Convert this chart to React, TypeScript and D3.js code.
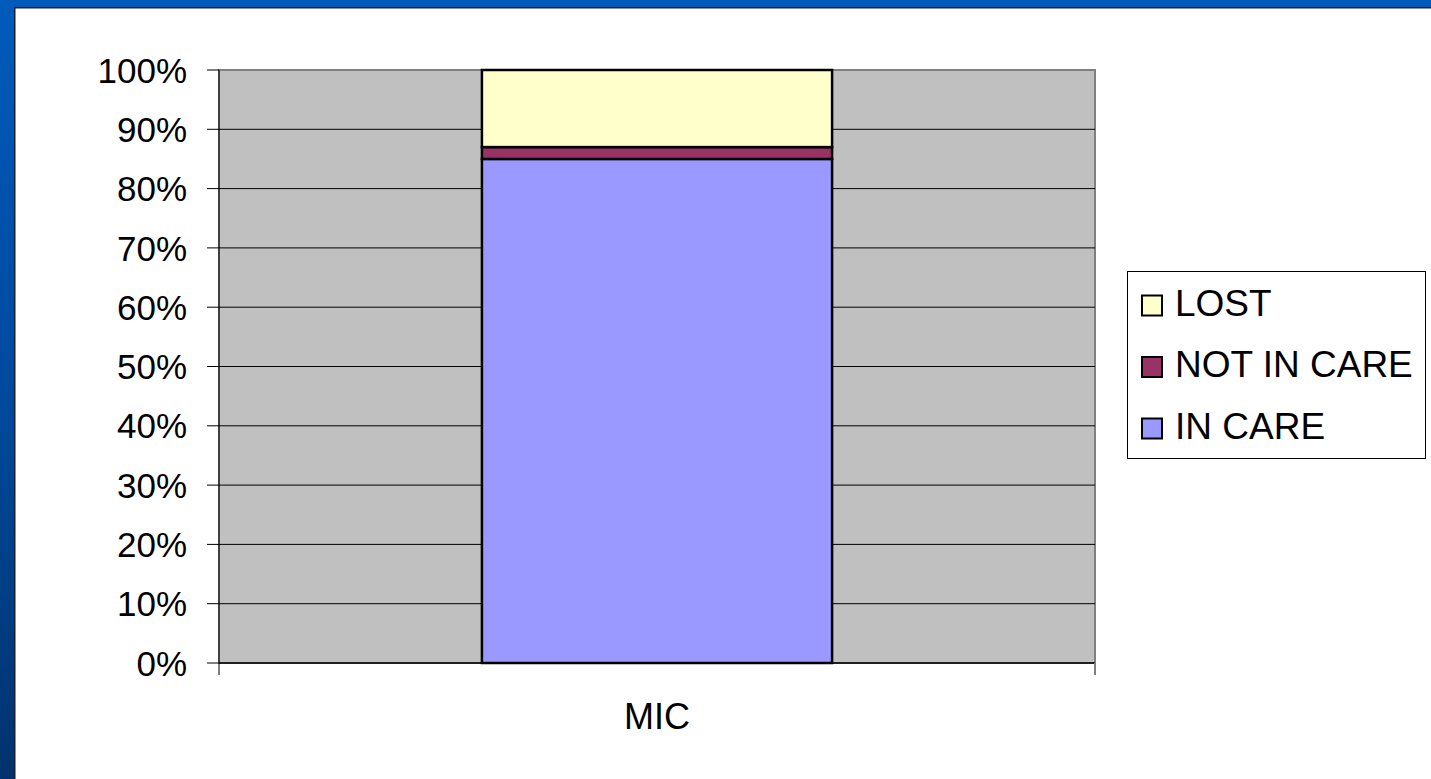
import React from "react";
import * as d3 from "d3";

const categories = ["MIC"];
const seriesNames = ["IN CARE", "NOT IN CARE", "LOST"];
const inCare = [85];
const notInCare = [2];
const lost = [13];
const tickValues = [0, 10, 20, 30, 40, 50, 60, 70, 80, 90, 100];
const colors: Record<string, string> = {
  "IN CARE": "#9999FF",
  "NOT IN CARE": "#993366",
  LOST: "#FFFFCC",
};

const W = 1431;
const H = 779;
const plot = { left: 219, right: 1095, top: 70, bottom: 663 };

export default function App() {
  const y = d3.scaleLinear().domain([0, 100]).range([plot.bottom, plot.top]);
  const x = d3
    .scaleBand<string>()
    .domain(categories)
    .range([plot.left, plot.right])
    .paddingInner(0.43)
    .paddingOuter(0.428);

  const rows = categories.map((c, i) => ({
    cat: c,
    "IN CARE": inCare[i],
    "NOT IN CARE": notInCare[i],
    LOST: lost[i],
  }));
  const stacked = d3.stack<any>().keys(seriesNames)(rows);

  const legendItems = ["LOST", "NOT IN CARE", "IN CARE"];
  const font = "Arial, 'Liberation Sans', sans-serif";

  return (
    <svg
      width={W}
      height={H}
      style={{ position: "absolute", left: 0, top: 0, display: "block" }}
      fontFamily={font}
    >
      <defs>
        <linearGradient id="leftBand" x1="0" y1="0" x2="0" y2="1">
          <stop offset="0" stopColor="#005BBB" />
          <stop offset="0.5" stopColor="#004A9E" />
          <stop offset="1" stopColor="#00336E" />
        </linearGradient>
      </defs>
      <rect x={0} y={0} width={W} height={H} fill="#ffffff" />
      {/* frame */}
      <rect x={0} y={0} width={15} height={H} fill="url(#leftBand)" />
      <rect x={0} y={0} width={W} height={7} fill="#005BBB" />
      <rect x={14} y={7} width={W - 14} height={1.5} fill="#1a1f2e" />
      <rect x={14} y={7} width={1.5} height={H - 7} fill="#1a1f2e" />

      {/* plot area */}
      <rect
        x={plot.left}
        y={plot.top}
        width={plot.right - plot.left}
        height={plot.bottom - plot.top}
        fill="#C0C0C0"
        stroke="#808080"
        strokeWidth={2}
      />
      {tickValues.map((t) => (
        <g key={t}>
          {t > 0 && t < 100 && (
            <line
              x1={plot.left}
              x2={plot.right}
              y1={y(t)}
              y2={y(t)}
              stroke="#000"
              strokeWidth={1}
            />
          )}
          <line x1={plot.left - 12} x2={plot.left} y1={y(t)} y2={y(t)} stroke="#000" strokeWidth={1} />
          <text
            x={187}
            y={y(t)}
            dy="0.36em"
            textAnchor="end"
            fontSize={35}
            fill="#000"
          >
            {t}%
          </text>
        </g>
      ))}

      {/* bars */}
      {stacked.map((s) =>
        s.map((d, i) => (
          <rect
            key={s.key + i}
            x={x(categories[i])!}
            width={x.bandwidth()}
            y={y(d[1])}
            height={y(d[0]) - y(d[1])}
            fill={colors[s.key]}
            stroke="#000"
            strokeWidth={2.5}
          />
        ))
      )}

      {/* axes */}
      <line x1={plot.left} x2={plot.left} y1={plot.top} y2={plot.bottom + 12} stroke="#000" strokeWidth={1} />
      <line x1={plot.left} x2={plot.right} y1={plot.bottom} y2={plot.bottom} stroke="#000" strokeWidth={1.5} />
      <line x1={plot.right} x2={plot.right} y1={plot.bottom} y2={plot.bottom + 12} stroke="#808080" strokeWidth={2} />
      {categories.map((c) => (
        <text
          key={c}
          x={x(c)! + x.bandwidth() / 2}
          y={729}
          textAnchor="middle"
          fontSize={36}
          fill="#000"
        >
          {c}
        </text>
      ))}

      {/* legend */}
      <rect x={1127.5} y={271.5} width={298} height={187} fill="#fff" stroke="#000" strokeWidth={1} />
      {legendItems.map((name, i) => {
        const cy = 305.5 + i * 61.5;
        return (
          <g key={name}>
            <rect
              x={1142}
              y={cy - 10}
              width={20}
              height={20}
              fill={colors[name]}
              stroke="#000"
              strokeWidth={2}
            />
            <text x={1175} y={cy + 10} fontSize={37} fill="#000">
              {name}
            </text>
          </g>
        );
      })}
    </svg>
  );
}
